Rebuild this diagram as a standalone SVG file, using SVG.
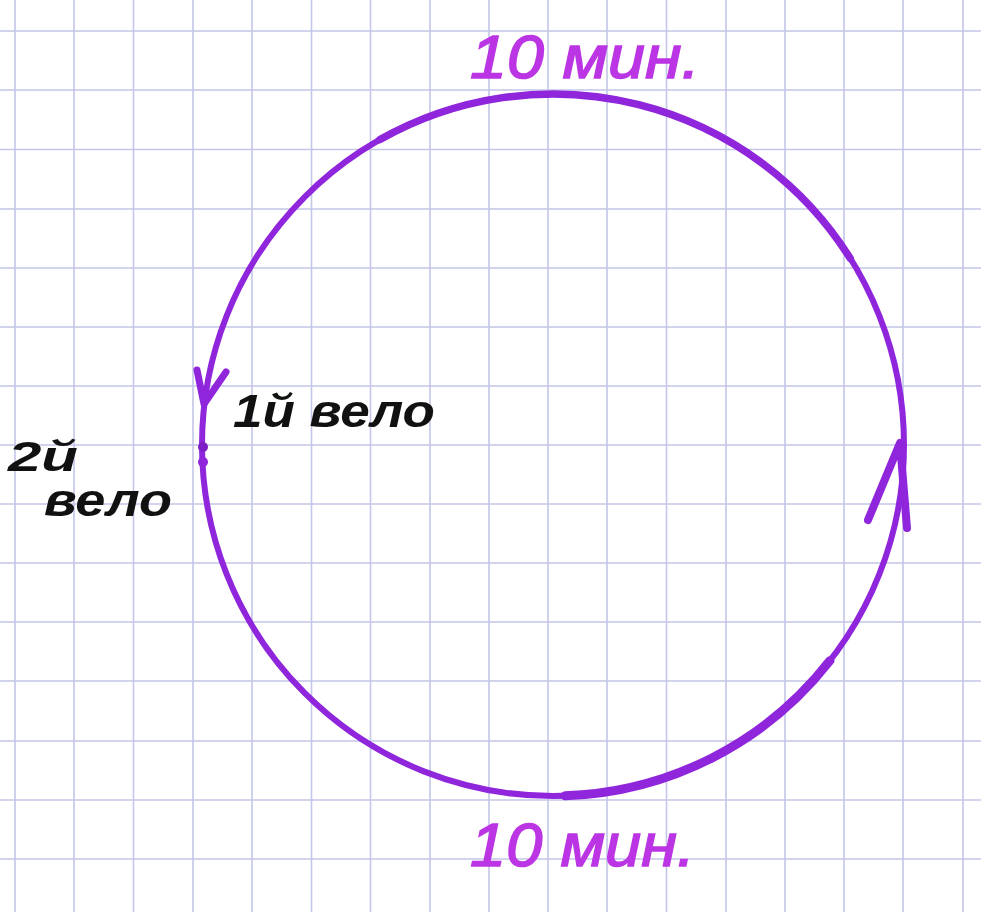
<svg xmlns="http://www.w3.org/2000/svg" width="981" height="912" viewBox="0 0 981 912">
<style>
.grid line{stroke:#c3c6e8;stroke-width:1.6}
.ink{fill:none;stroke:#8f26dc;stroke-linecap:round;stroke-linejoin:round}
.mag{font-family:"Liberation Sans","DejaVu Sans",sans-serif;font-style:italic;fill:#bb35e4;stroke:#bb35e4;stroke-width:1.5}
.blk{font-family:"Liberation Sans","DejaVu Sans",sans-serif;font-style:italic;font-weight:bold;fill:#111}
</style>
<rect width="981" height="912" fill="#ffffff"/>
<g class="grid" id="grid">
<line x1="15" y1="0" x2="15" y2="912"/><line x1="74" y1="0" x2="74" y2="912"/><line x1="133.5" y1="0" x2="133.5" y2="912"/><line x1="193" y1="0" x2="193" y2="912"/><line x1="252" y1="0" x2="252" y2="912"/><line x1="311.5" y1="0" x2="311.5" y2="912"/><line x1="370.5" y1="0" x2="370.5" y2="912"/><line x1="430" y1="0" x2="430" y2="912"/><line x1="489" y1="0" x2="489" y2="912"/><line x1="548" y1="0" x2="548" y2="912"/><line x1="607" y1="0" x2="607" y2="912"/><line x1="666.5" y1="0" x2="666.5" y2="912"/><line x1="726" y1="0" x2="726" y2="912"/><line x1="785" y1="0" x2="785" y2="912"/><line x1="844" y1="0" x2="844" y2="912"/><line x1="903" y1="0" x2="903" y2="912"/><line x1="963" y1="0" x2="963" y2="912"/>
<line x1="0" y1="31" x2="981" y2="31"/><line x1="0" y1="90" x2="981" y2="90"/><line x1="0" y1="149.5" x2="981" y2="149.5"/><line x1="0" y1="209" x2="981" y2="209"/><line x1="0" y1="268" x2="981" y2="268"/><line x1="0" y1="327" x2="981" y2="327"/><line x1="0" y1="386" x2="981" y2="386"/><line x1="0" y1="445" x2="981" y2="445"/><line x1="0" y1="504" x2="981" y2="504"/><line x1="0" y1="563" x2="981" y2="563"/><line x1="0" y1="622" x2="981" y2="622"/><line x1="0" y1="681" x2="981" y2="681"/><line x1="0" y1="741" x2="981" y2="741"/><line x1="0" y1="800" x2="981" y2="800"/><line x1="0" y1="859" x2="981" y2="859"/>
</g>
<g id="track">
<ellipse class="ink" cx="553" cy="445" rx="351" ry="351" stroke-width="6"/>
<path class="ink" d="M 830 660.6 A 351 351 0 0 1 565 795.8" stroke-width="9" stroke="#8420cf"/>
<path class="ink" d="M 380 139.6 A 351 351 0 0 1 850 258" stroke-width="7.5" stroke="#8a22d6"/>
</g>
<g id="connectors">
<path class="ink" d="M 197 370 L 204 404 L 226 372" stroke-width="7"/>
<path class="ink" d="M 868 520 L 900 443 L 907 528" stroke-width="8"/>
<circle cx="203" cy="447" r="5" fill="#7d1fc4"/>
<circle cx="203" cy="462" r="5" fill="#8f26dc"/>
</g>
<g id="label-top"><text class="mag" x="470" y="78" font-size="62" textLength="230" lengthAdjust="spacingAndGlyphs">10 мин.</text></g>
<g id="label-bottom"><text class="mag" x="470" y="866" font-size="62" textLength="225" lengthAdjust="spacingAndGlyphs">10 мин.</text></g>
<g id="bike1"><text class="blk" x="233" y="427" font-size="46" textLength="202" lengthAdjust="spacingAndGlyphs">1й вело</text></g>
<g id="bike2">
<text class="blk" x="8" y="471" font-size="42" textLength="70" lengthAdjust="spacingAndGlyphs">2й</text>
<text class="blk" x="44" y="516" font-size="46" textLength="128" lengthAdjust="spacingAndGlyphs">вело</text>
</g>
</svg>
